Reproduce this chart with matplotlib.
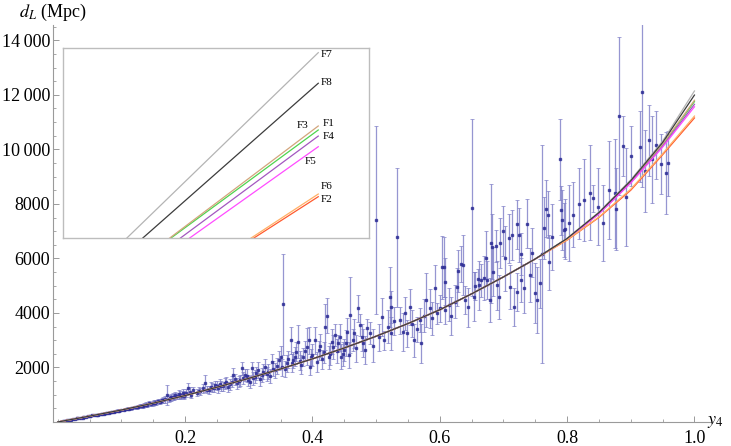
import matplotlib
matplotlib.use("Agg")
import matplotlib.pyplot as plt
from matplotlib.ticker import MultipleLocator, FixedLocator

plt.rcParams['font.family'] = ['Liberation Serif', 'DejaVu Serif']
plt.rcParams['mathtext.fontset'] = 'stix'

# supernova data: y4, d_L (Mpc), error (Mpc)
y4 = [0.008, 0.012, 0.015, 0.018, 0.021, 0.024, 0.027, 0.030, 0.033, 0.036, 0.039, 0.042, 0.045, 0.048,
      0.051, 0.054, 0.057, 0.060, 0.064, 0.068, 0.072, 0.076, 0.080, 0.084, 0.088, 0.092, 0.096, 0.100,
      0.104, 0.108, 0.112, 0.117, 0.121, 0.126, 0.130, 0.134, 0.138, 0.141, 0.144, 0.147, 0.151, 0.155,
      0.158, 0.162, 0.166, 0.169, 0.171, 0.174, 0.178, 0.181, 0.184, 0.187, 0.190, 0.193, 0.196, 0.199,
      0.202, 0.205, 0.207, 0.210,
      0.213, 0.218, 0.224, 0.231, 0.237, 0.242, 0.247, 0.252, 0.257, 0.263, 0.268, 0.273, 0.276, 0.281,
      0.286, 0.289, 0.294, 0.299, 0.302, 0.305, 0.310, 0.315, 0.318, 0.321, 0.326, 0.331, 0.334, 0.336,
      0.342, 0.347, 0.350, 0.354, 0.357, 0.360, 0.366, 0.370, 0.375, 0.378, 0.382, 0.386, 0.391, 0.395,
      0.396, 0.398, 0.404, 0.410,
      0.415, 0.420, 0.423, 0.428, 0.432, 0.436, 0.440, 0.445, 0.450, 0.455, 0.459, 0.463, 0.468, 0.472,
      0.475, 0.480, 0.485, 0.490, 0.495, 0.500, 0.504, 0.509, 0.513, 0.518, 0.522, 0.523, 0.524, 0.528,
      0.533, 0.538, 0.542, 0.546, 0.548, 0.553, 0.556, 0.560, 0.564, 0.569, 0.571, 0.575, 0.579, 0.584,
      0.588, 0.593, 0.595, 0.600,
      0.604, 0.607, 0.608, 0.609, 0.614, 0.618, 0.624, 0.627, 0.628, 0.633, 0.636, 0.640, 0.645, 0.650,
      0.654, 0.655, 0.660, 0.661, 0.665, 0.669, 0.672, 0.674, 0.679, 0.680, 0.682, 0.684, 0.688, 0.690,
      0.693, 0.695, 0.700, 0.703, 0.708, 0.710, 0.713, 0.716, 0.721, 0.722, 0.724, 0.727, 0.728, 0.732,
      0.737, 0.741, 0.745, 0.750, 0.753, 0.758, 0.760, 0.763, 0.767, 0.770, 0.772, 0.776,
      0.789, 0.790, 0.792, 0.795, 0.797, 0.803, 0.810, 0.818, 0.826, 0.836, 0.841, 0.848, 0.857, 0.866,
      0.876, 0.877, 0.882, 0.888, 0.892, 0.901, 0.914, 0.917, 0.922, 0.929, 0.933, 0.940, 0.948, 0.955,
      0.958,
      # denser group near the curve
      0.010, 0.020, 0.031, 0.040, 0.050, 0.062, 0.070, 0.078, 0.086, 0.094, 0.110, 0.115, 0.124, 0.132,
      0.136, 0.149, 0.153, 0.160, 0.164, 0.176, 0.183, 0.192, 0.198,
      0.222, 0.228, 0.234, 0.240, 0.245, 0.250, 0.255, 0.260, 0.265, 0.270, 0.279, 0.284, 0.291, 0.297,
      0.307, 0.312, 0.323, 0.328, 0.338, 0.344, 0.352, 0.362, 0.368, 0.373, 0.380, 0.388, 0.400, 0.407,
      0.412, 0.418, 0.426, 0.430, 0.438, 0.443, 0.448, 0.453, 0.457, 0.466, 0.478, 0.483]
dl = [35, 55, 62, 80, 88, 108, 112, 132, 138, 160, 165, 185, 190, 212,
      215, 240, 242, 262, 270, 300, 305, 335, 340, 370, 380, 405, 410, 450,
      455, 485, 480, 515, 540, 555, 590, 580, 640, 620, 680, 650, 700, 720,
      760, 770, 800, 840, 1000, 850, 900, 930, 980, 940, 1010, 960, 1050, 1000,
      1060, 1230, 1105, 990,
      1167, 1080, 1120, 1413, 1167, 1260, 1350, 1230, 1320, 1413, 1290, 1470, 1717, 1413,
      1534, 1963, 1717, 1534, 1480, 1963, 1655, 1900, 1560, 1717, 2023, 1840, 1700, 2205,
      1900, 2268, 2390, 4320, 1950, 2147, 3000, 2268, 2573, 2940, 2100, 2390, 2760, 3000,
      2023, 2390, 3000, 2635,
      2300, 3490, 3890, 2500, 2750, 3190, 2880, 2400, 2650, 3300, 3920, 3000, 2700, 4165,
      3550, 2900, 3430, 3250, 2800, 7400, 3100, 3860, 3000, 3500, 4590, 4220, 3250, 3700,
      6770, 3735, 3300, 3980, 3250, 4220, 3600, 3000, 3400, 3735, 2880, 3900, 4470, 4165,
      3800, 4900, 3980, 4165,
      5670, 5690, 4100, 5140, 4300, 3900, 4410, 4960, 5530, 5790, 5750, 4470, 4200, 7860,
      4590, 4980, 5230, 5020, 5200, 5270, 6000, 5200, 4470, 6550, 6430, 5510, 6460, 5020,
      4590, 6570, 7010, 6000, 6730, 4960, 6860, 4220, 4775, 7260, 6860, 5200, 6160, 4900,
      7280, 5390, 6200, 4720, 4470, 5080, 6160, 7100, 7830, 7600, 5850, 6790,
      9630, 7770, 7400, 7040, 7080, 7300, 7600, 8000, 8150, 8410, 8200, 7900, 7310, 8500,
      8390, 7800, 11220, 10120, 8260, 9750, 10100, 12110, 9200, 10340, 9630, 10160, 9460, 9140,
      9490,
      45, 90, 130, 175, 220, 265, 300, 340, 375, 415, 490, 505, 545, 600,
      610, 690, 700, 750, 790, 870, 920, 1000, 960,
      1150, 1230, 1190, 1300, 1240, 1330, 1390, 1310, 1450, 1380, 1560, 1490, 1600, 1700,
      1600, 1780, 1850, 1760, 1950, 2050, 2000, 2300, 2150, 2400, 2250, 2600, 2450, 2200,
      2800, 2550, 2380, 2950, 2600, 3100, 2500, 2900, 2450, 3250, 3100, 2650]
dl_err = [15, 15, 18, 18, 20, 20, 22, 22, 24, 25, 25, 26, 28, 28,
          30, 30, 32, 32, 34, 35, 35, 36, 38, 38, 40, 40, 42, 40,
          40, 45, 50, 50, 60, 55, 70, 60, 90, 80, 100, 70, 90, 80,
          100, 90, 110, 130, 370, 100, 120, 140, 130, 110, 150, 120, 160, 130,
          150, 210, 180, 120,
          100, 120, 140, 300, 150, 160, 150, 180, 170, 200, 180, 200, 250, 200,
          200, 250, 230, 200, 220, 250, 240, 300, 230, 260, 300, 270, 260, 300,
          280, 350, 380, 1850, 300, 300, 500, 300, 350, 600, 350, 330, 670, 500,
          300, 300, 500, 350,
          350, 850, 640, 400, 450, 400, 300, 450, 400, 500, 1380, 400, 500, 500,
          400, 500, 350, 400, 600, 3450, 500, 700, 350, 600, 1100, 600, 600, 500,
          2550, 500, 700, 600, 500, 650, 500, 600, 450, 450, 700, 600, 980, 700,
          600, 860, 400, 500,
          1150, 1100, 500, 860, 600, 700, 600, 700, 780, 670, 1100, 500, 700, 3250,
          900, 520, 380, 900, 600, 800, 1000, 700, 800, 2180, 1200, 900, 580, 900,
          800, 920, 930, 1200, 900, 800, 920, 700, 700, 900, 1000, 800, 780, 900,
          900, 1000, 900, 1100, 1220, 900, 4000, 1140, 1040, 860, 1000, 1200,
          1500, 900, 1100, 1000, 1100, 1400, 1200, 1300, 1500, 1750, 500, 1400, 1400, 1800,
          2000, 1500, 2900, 1100, 1800, 1100, 1300, 3500, 1500, 1300, 1600, 1250, 1100, 1500,
          1200,
          15, 18, 22, 25, 30, 33, 35, 38, 40, 45, 50, 55, 60, 70,
          70, 90, 90, 100, 100, 110, 120, 130, 130,
          130, 150, 140, 160, 150, 170, 180, 170, 200, 190, 210, 200, 220, 230,
          230, 250, 260, 250, 280, 300, 300, 320, 330, 340, 350, 380, 400, 380,
          420, 400, 420, 450, 450, 500, 450, 480, 480, 520, 500, 520]

# model curves F1..F8
y_curve = [0.0, 0.05, 0.1, 0.15, 0.2, 0.25, 0.3, 0.35, 0.4, 0.45, 0.5, 0.55, 0.6, 0.65, 0.7, 0.75,
           0.8, 0.85, 0.9, 0.95, 1.0]
dl_common = [0, 215, 440, 690, 970, 1275, 1600, 1945, 2315, 2715, 3145, 3610, 4115, 4700, 5320, 5980]
tails = {
    "F1": [6720, 7650, 8800, 10150, 11750],
    "F2": [6670, 7500, 8500, 9800, 11150],
    "F3": [6725, 7660, 8815, 10180, 11800],
    "F4": [6715, 7640, 8780, 10110, 11650],
    "F5": [6710, 7630, 8760, 10080, 11560],
    "F6": [6680, 7520, 8540, 9840, 11220],
    "F7": [6740, 7700, 8880, 10300, 12140],
    "F8": [6730, 7680, 8850, 10250, 11990],
}
colors = {"F1": "#4fd44f", "F2": "#ff5a2e", "F3": "#d3a57c", "F4": "#a357c0",
          "F5": "#ff4cff", "F6": "#ffb066", "F7": "#b4b4b4", "F8": "#3c3c3c"}

# inset: start x of each line (frac), end y (frac), all end at x = 0.834
inset_x0 = {"F7": 0.207, "F8": 0.259, "F3": 0.347, "F1": 0.351, "F4": 0.382, "F5": 0.412,
            "F6": 0.613, "F2": 0.622}
inset_y1 = {"F7": 0.977, "F8": 0.816, "F3": 0.591, "F1": 0.570, "F4": 0.538, "F5": 0.482,
            "F6": 0.233, "F2": 0.219}
inset_lab = {"F7": (0.842, 0.965, "left"), "F8": (0.842, 0.819, "left"), "F3": (0.801, 0.596, "right"),
             "F1": (0.850, 0.602, "left"), "F4": (0.850, 0.535, "left"), "F5": (0.810, 0.403, "center"),
             "F6": (0.842, 0.272, "left"), "F2": (0.842, 0.205, "left")}

fig = plt.figure(figsize=(7.31, 4.46), dpi=100)
ax = fig.add_axes([53 / 731, 24 / 446, 658 / 731, 397 / 446])

ax.errorbar(y4, dl, yerr=dl_err, fmt="s", ms=1.8, color="#2e2e96", ecolor="#7c7cc6",
            elinewidth=0.9, capsize=1.5, capthick=0.6, alpha=0.8, zorder=2)

for name in ["F1", "F2", "F3", "F4", "F5", "F6", "F7", "F8"]:
    ax.plot(y_curve, dl_common + tails[name], color=colors[name], lw=0.9, zorder=3)

ax.set_xlim(-0.0074, 1.026)
ax.set_ylim(0, 14560)
for s in ["top", "right"]:
    ax.spines[s].set_visible(False)
for s in ["left", "bottom"]:
    ax.spines[s].set_color("#9a9a9a")
    ax.spines[s].set_linewidth(0.8)

ax.xaxis.set_major_locator(FixedLocator([0.2, 0.4, 0.6, 0.8, 1.0]))
ax.xaxis.set_minor_locator(MultipleLocator(0.05))
ax.set_xticklabels(["0.2", "0.4", "0.6", "0.8", "1.0"])
ax.yaxis.set_major_locator(FixedLocator([2000, 4000, 6000, 8000, 10000, 12000, 14000]))
ax.yaxis.set_minor_locator(MultipleLocator(500))
ax.set_yticklabels(["2000", "4000", "6000", "8000", "10\u2009000", "12\u2009000", "14\u2009000"])
ax.tick_params(which="both", direction="in", color="#9a9a9a", labelsize=13)
ax.tick_params(which="major", length=4, width=0.7)
ax.tick_params(which="minor", length=2.5, width=0.6)
ax.tick_params(axis="x", pad=6)
ax.tick_params(axis="y", pad=2)

fig.text(53 / 731, 1 - 12 / 446, r"$d_L$ (Mpc)", ha="center", va="center", fontsize=13)
fig.text(715 / 731, 1 - 421 / 446, r"$y_4$", ha="center", va="center", fontsize=13)

ins = fig.add_axes([63.3 / 731, 1 - 238.3 / 446, 305.7 / 731, 190 / 446])
ins.set_xlim(0, 1)
ins.set_ylim(0, 1)
ins.set_xticks([])
ins.set_yticks([])
for s in ins.spines.values():
    s.set_color("#bdbdbd")
    s.set_linewidth(1.0)
for name in ["F1", "F2", "F3", "F4", "F5", "F6", "F7", "F8"]:
    ins.plot([inset_x0[name], 0.834], [0, inset_y1[name]], color=colors[name], lw=0.9)
    lx, ly, ha = inset_lab[name]
    ins.text(lx, ly, name, ha=ha, va="center", fontsize=8)

fig.savefig("out.png", dpi=100)
